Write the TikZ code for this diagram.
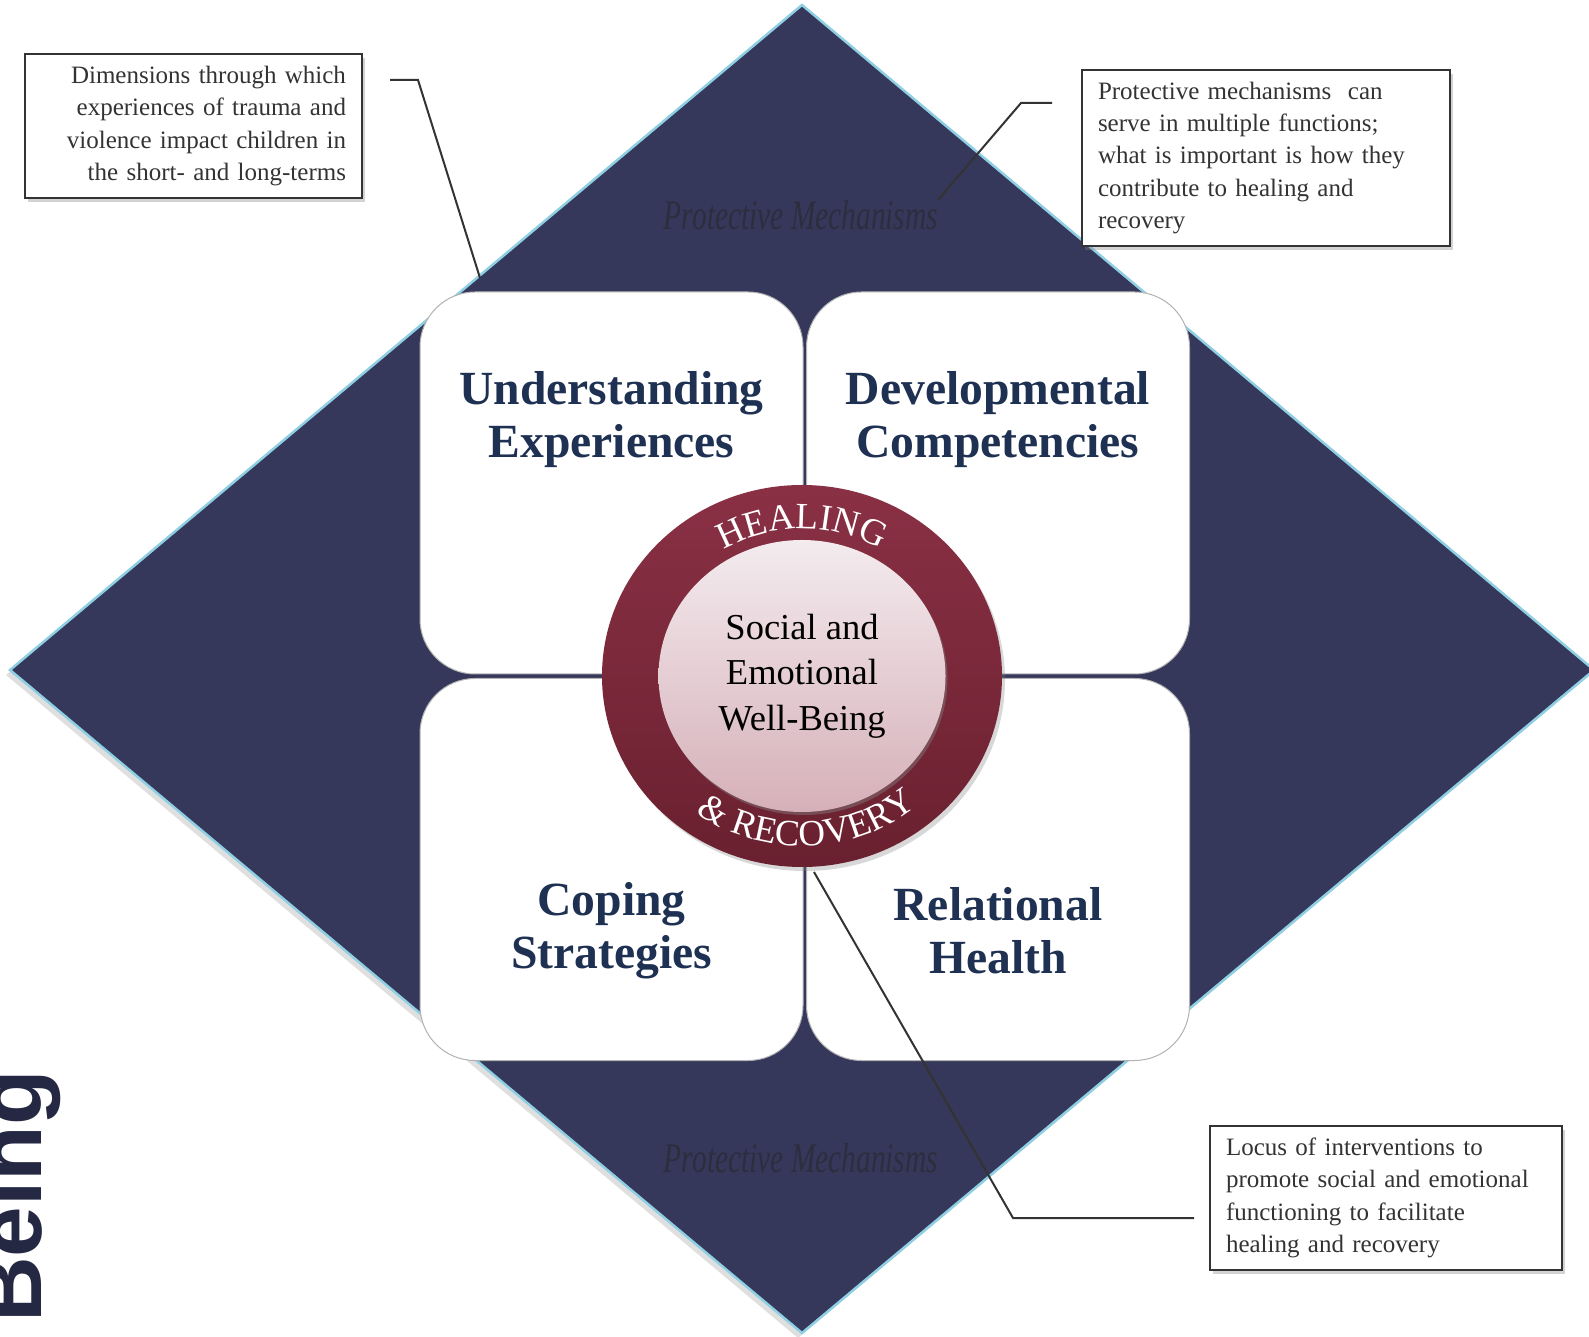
\documentclass[tikz,border=0pt]{standalone}
\usepackage{fontspec}
\setmainfont{Liberation Serif}
\newfontfamily\beingsans{Liberation Sans}
\usetikzlibrary{shapes.geometric,shadows,decorations.text,calc}

\definecolor{navy}{HTML}{35385A}
\definecolor{edgeblue}{HTML}{8FCFE3}
\definecolor{titleblue}{HTML}{1F3152}
\definecolor{ringtop}{HTML}{8A3045}
\definecolor{ringbot}{HTML}{69202F}
\definecolor{disctop}{HTML}{F3EBEE}
\definecolor{discbot}{HTML}{D6B0B9}
\definecolor{pmgray}{HTML}{2C2E3E}
\definecolor{beingblue}{HTML}{242842}
\definecolor{notegray}{HTML}{333333}

\newcommand\ringfont{\fontsize{37}{37}\selectfont}

\begin{document}
\begin{tikzpicture}[x=1pt,y=1pt]
    \useasboundingbox (0,0) rectangle (1589,1336);

    \filldraw[fill=navy, draw=edgeblue, line width=2.5pt,
        drop shadow={shadow xshift=-4pt, shadow yshift=-5pt, opacity=0.25}]
        (802,1331) -- (10,666) -- (802,3) -- (1594,666) -- cycle;

    \begin{scope}[every node/.style={text=pmgray, font=\fontsize{42}{42}\selectfont\itshape}]
        \node (pmtop) at (801,1121) {\scalebox{0.7}[1]{Protective Mechanisms}};
        \node (pmbot) at (801,178) {\scalebox{0.7}[1]{Protective Mechanisms}};
    \end{scope}

    \begin{scope}[every node/.style={rectangle, rounded corners=55pt, minimum width=383pt,
        minimum height=382pt, inner sep=0pt, fill=white, draw=black!30, line width=1pt}]
        \node (ulbox) at (611.5,853) {};
        \node (urbox) at (998,853) {};
        \node (llbox) at (611.5,466.5) {};
        \node (lrbox) at (998,466.5) {};
    \end{scope}

    \begin{scope}[every node/.style={align=center, text=titleblue,
        font=\fontsize{47.6}{53}\selectfont\bfseries}]
        \node (under) at (611.5,916) {Understanding\\Experiences};
        \node (devel) at (998,916) {Developmental\\Competencies};
        \node (coping) at (611.5,405) {Coping\\Strategies};
        \node (relat) at (998,405) {Relational\\Health};
    \end{scope}

    \node[ellipse, minimum width=400pt, minimum height=382pt, inner sep=0pt,
        top color=ringtop, bottom color=ringbot,
        drop shadow={shadow xshift=3pt, shadow yshift=-4pt, opacity=0.3}] (ring) at (802,660) {};
    \node[ellipse, minimum width=287pt, minimum height=272pt, inner sep=0pt,
        top color=disctop, bottom color=discbot, align=center,
        font=\fontsize{36.5}{45.6}\selectfont,
        drop shadow={shadow xshift=2pt, shadow yshift=-3pt, opacity=0.45}] (sew) at (802,660)
        {Social and\\Emotional\\Well-Being};

    \path[decorate, decoration={text along path, text align=center, text color=white,
        text={|\ringfont|HEALING}}]
        ($(ring.center)+(150:154 and 147)$) arc[start angle=150, end angle=30, x radius=154, y radius=147];
    \path[decorate, decoration={text along path, text align=center, text color=white,
        text={|\ringfont|{\&} RECOVERY}}]
        ($(ring.center)+(220:178 and 170)$) arc[start angle=220, end angle=324, x radius=178, y radius=170];

    \coordinate (l1a) at (390,1256);
    \coordinate (l1b) at (418,1256);
    \coordinate (l1c) at (480,1058);
    \coordinate (l2a) at (1052,1233);
    \coordinate (l2b) at (1021,1233);
    \coordinate (l2c) at (938,1136);
    \coordinate (l3a) at (814,464);
    \coordinate (l3b) at (1013,118);
    \coordinate (l3c) at (1194,118);
    \begin{scope}[every path/.style={draw=notegray, line width=2pt}]
        \path (l1a) -- (l1b) -- (l1c);
        \path (l2a) -- (l2b) -- (l2c);
        \path (l3a) -- (l3b) -- (l3c);
    \end{scope}

    \begin{scope}[every node/.style={rectangle, draw=notegray, line width=2pt, fill=white,
        inner xsep=16pt, inner ysep=0pt, text=notegray, font=\fontsize{25}{32.4}\selectfont,
        drop shadow={shadow xshift=3pt, shadow yshift=-4pt, opacity=0.35}}]
        \node[align=right, text width=305pt, minimum height=144pt] (dimnote) at (193.5,1210)
            {Dimensions through which\\experiences of trauma and\\violence impact children in\\the short- and long-terms};
        \node[align=left, text width=336pt, minimum height=176pt] (protnote) at (1266,1178)
            {Protective mechanisms\ \ can\\serve in multiple functions;\\what is important is how they\\contribute to healing and\\recovery};
        \node[align=left, text width=320pt, minimum height=144pt] (locnote) at (1386,138)
            {Locus of interventions to\\promote social and emotional\\functioning to facilitate\\healing and recovery};
    \end{scope}

    \node[rotate=90, anchor=base west, inner sep=0pt, text=beingblue,
        font=\beingsans\bfseries\fontsize{91}{91}\selectfont] (being) at (41,13) {Being};
\end{tikzpicture}
\end{document}
